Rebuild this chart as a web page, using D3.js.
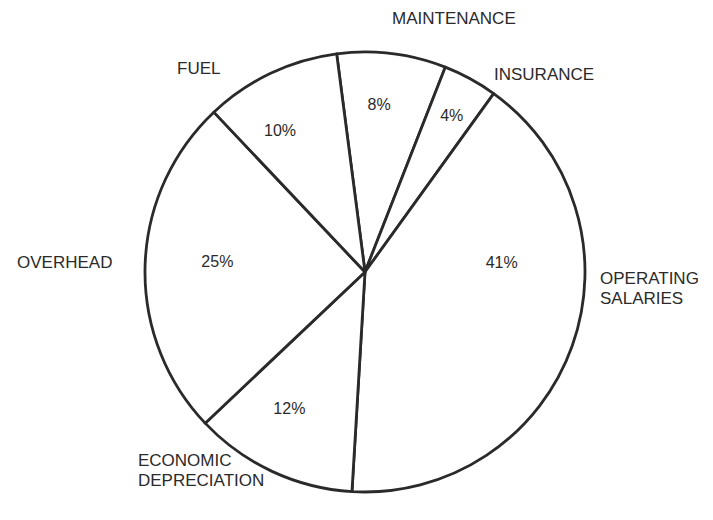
<!DOCTYPE html>
<html>
<head>
<meta charset="utf-8">
<script src="https://cdn.jsdelivr.net/npm/d3@7/dist/d3.min.js"></script>
<style>
  html, body { margin: 0; padding: 0; background: #fff; }
  svg { display: block; }
  text { font-family: "Liberation Sans", Arial, Helvetica, sans-serif; fill: #2a2a2a; }
</style>
</head>
<body>
<svg id="chart" width="713" height="520"></svg>
<script>
// Cost shares, clockwise from the top
const categories = ["MAINTENANCE", "INSURANCE", "OPERATING SALARIES", "ECONOMIC DEPRECIATION", "OVERHEAD", "FUEL"];
const shares = [8, 4, 41, 12, 25, 10];
const shareLabels = ["8%", "4%", "41%", "12%", "25%", "10%"];

// Label placement: category names sit outside the circle, shares inside
const nameLines = {
  "MAINTENANCE": ["MAINTENANCE"],
  "INSURANCE": ["INSURANCE"],
  "OPERATING SALARIES": ["OPERATING", "SALARIES"],
  "ECONOMIC DEPRECIATION": ["ECONOMIC", "DEPRECIATION"],
  "OVERHEAD": ["OVERHEAD"],
  "FUEL": ["FUEL"]
};
const nameLayout = {
  "MAINTENANCE": { x: 392, y: 24, anchor: "start" },
  "INSURANCE": { x: 494, y: 80, anchor: "start" },
  "OPERATING SALARIES": { x: 600, y: 284, anchor: "start" },
  "ECONOMIC DEPRECIATION": { x: 138, y: 466, anchor: "start" },
  "OVERHEAD": { x: 17, y: 268, anchor: "start" },
  "FUEL": { x: 177, y: 74, anchor: "start" }
};
// share labels: polar position (degrees clockwise from top, radius in px)
const shareLayout = [
  { a: 4.8, r: 168 },
  { a: 29, r: 179 },
  { a: 86, r: 137 },
  { a: 209, r: 156 },
  { a: 274, r: 148 },
  { a: 329, r: 165 }
];

const width = 713, height = 520;
const cx = 365, cy = 272, radius = 220;
const startDeg = -7.4;
const toRad = Math.PI / 180;

const svg = d3.select("#chart");
const g = svg.append("g").attr("transform", `translate(${cx},${cy})`);

const pie = d3.pie()
  .sort(null)
  .value(d => d)
  .startAngle(startDeg * toRad)
  .endAngle((startDeg + 360) * toRad);

const arcs = pie(shares);
const arc = d3.arc().innerRadius(0).outerRadius(radius);

g.selectAll("path.slice")
  .data(arcs)
  .join("path")
  .attr("class", "slice")
  .attr("d", arc)
  .attr("fill", "#fff")
  .attr("stroke", "#2a2a2a")
  .attr("stroke-width", 2.8)
  .attr("stroke-linejoin", "round");

// share percentages inside the slices
g.selectAll("text.share")
  .data(arcs)
  .join("text")
  .attr("class", "share")
  .attr("x", (d, i) => shareLayout[i].r * Math.sin(shareLayout[i].a * toRad))
  .attr("y", (d, i) => -shareLayout[i].r * Math.cos(shareLayout[i].a * toRad))
  .attr("dy", "0.35em")
  .attr("text-anchor", "middle")
  .attr("font-size", 16)
  .text((d, i) => shareLabels[i]);

// category names around the circle
const names = svg.selectAll("text.name")
  .data(categories)
  .join("text")
  .attr("class", "name")
  .attr("x", d => nameLayout[d].x)
  .attr("y", d => nameLayout[d].y)
  .attr("text-anchor", d => nameLayout[d].anchor)
  .attr("font-size", 17);

names.selectAll("tspan")
  .data(d => nameLines[d].map(line => ({ line, x: nameLayout[d].x })))
  .join("tspan")
  .attr("x", d => d.x)
  .attr("dy", (d, i) => i === 0 ? 0 : 20)
  .text(d => d.line);
</script>
</body>
</html>
